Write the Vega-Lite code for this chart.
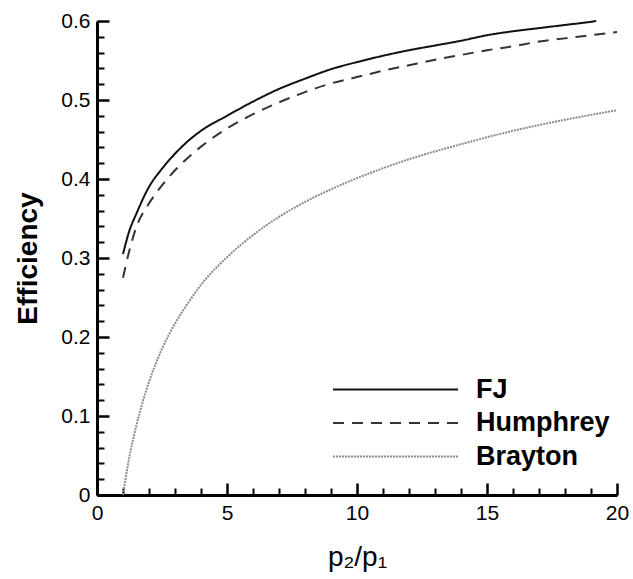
{
  "$schema": "https://vega.github.io/schema/vega-lite/v6.json",
  "width": 520,
  "height": 474,
  "autosize": "none",
  "padding": {"left": 97, "top": 21, "right": 16, "bottom": 84},
  "config": {
    "font": "Liberation Sans",
    "view": {"stroke": null},
    "axis": {"grid": false, "domainColor": "#000", "tickColor": "#000", "labelColor": "#000", "titleColor": "#000"}
  },
  "data": {
    "values": [
      {"series": "FJ", "x": 1, "y": 0.305},
      {"series": "FJ", "x": 1.25, "y": 0.335},
      {"series": "FJ", "x": 1.5, "y": 0.355},
      {"series": "FJ", "x": 2, "y": 0.39},
      {"series": "FJ", "x": 2.5, "y": 0.413},
      {"series": "FJ", "x": 3, "y": 0.432},
      {"series": "FJ", "x": 3.5, "y": 0.448},
      {"series": "FJ", "x": 4, "y": 0.461},
      {"series": "FJ", "x": 5, "y": 0.48},
      {"series": "FJ", "x": 6, "y": 0.498},
      {"series": "FJ", "x": 7, "y": 0.514},
      {"series": "FJ", "x": 8, "y": 0.527},
      {"series": "FJ", "x": 9, "y": 0.539},
      {"series": "FJ", "x": 10, "y": 0.548},
      {"series": "FJ", "x": 11, "y": 0.556},
      {"series": "FJ", "x": 12, "y": 0.563},
      {"series": "FJ", "x": 13, "y": 0.569},
      {"series": "FJ", "x": 14, "y": 0.575},
      {"series": "FJ", "x": 15, "y": 0.582},
      {"series": "FJ", "x": 16, "y": 0.587},
      {"series": "FJ", "x": 17, "y": 0.591},
      {"series": "FJ", "x": 18, "y": 0.595},
      {"series": "FJ", "x": 19, "y": 0.599},
      {"series": "FJ", "x": 19.2, "y": 0.6},
      {"series": "Humphrey", "x": 1, "y": 0.275},
      {"series": "Humphrey", "x": 1.25, "y": 0.31},
      {"series": "Humphrey", "x": 1.5, "y": 0.338},
      {"series": "Humphrey", "x": 2, "y": 0.369},
      {"series": "Humphrey", "x": 2.5, "y": 0.392},
      {"series": "Humphrey", "x": 3, "y": 0.411},
      {"series": "Humphrey", "x": 3.5, "y": 0.427},
      {"series": "Humphrey", "x": 4, "y": 0.441},
      {"series": "Humphrey", "x": 5, "y": 0.464},
      {"series": "Humphrey", "x": 6, "y": 0.482},
      {"series": "Humphrey", "x": 7, "y": 0.497},
      {"series": "Humphrey", "x": 8, "y": 0.51},
      {"series": "Humphrey", "x": 9, "y": 0.521},
      {"series": "Humphrey", "x": 10, "y": 0.529},
      {"series": "Humphrey", "x": 11, "y": 0.537},
      {"series": "Humphrey", "x": 12, "y": 0.544},
      {"series": "Humphrey", "x": 13, "y": 0.551},
      {"series": "Humphrey", "x": 14, "y": 0.557},
      {"series": "Humphrey", "x": 15, "y": 0.563},
      {"series": "Humphrey", "x": 16, "y": 0.568},
      {"series": "Humphrey", "x": 17, "y": 0.574},
      {"series": "Humphrey", "x": 18, "y": 0.578},
      {"series": "Humphrey", "x": 19, "y": 0.582},
      {"series": "Humphrey", "x": 20, "y": 0.586},
      {"series": "Brayton", "x": 1, "y": 0.0},
      {"series": "Brayton", "x": 1.1, "y": 0.021},
      {"series": "Brayton", "x": 1.25, "y": 0.049},
      {"series": "Brayton", "x": 1.5, "y": 0.086},
      {"series": "Brayton", "x": 1.75, "y": 0.117},
      {"series": "Brayton", "x": 2, "y": 0.143},
      {"series": "Brayton", "x": 2.5, "y": 0.185},
      {"series": "Brayton", "x": 3, "y": 0.217},
      {"series": "Brayton", "x": 3.5, "y": 0.243},
      {"series": "Brayton", "x": 4, "y": 0.266},
      {"series": "Brayton", "x": 5, "y": 0.301},
      {"series": "Brayton", "x": 6, "y": 0.329},
      {"series": "Brayton", "x": 7, "y": 0.352},
      {"series": "Brayton", "x": 8, "y": 0.371},
      {"series": "Brayton", "x": 9, "y": 0.387},
      {"series": "Brayton", "x": 10, "y": 0.401},
      {"series": "Brayton", "x": 12, "y": 0.425},
      {"series": "Brayton", "x": 14, "y": 0.444},
      {"series": "Brayton", "x": 16, "y": 0.461},
      {"series": "Brayton", "x": 18, "y": 0.475},
      {"series": "Brayton", "x": 20, "y": 0.487}
    ]
  },
  "layer": [
    {
      "mark": {"type": "point", "opacity": 0},
      "encoding": {
        "x": {"field": "x", "type": "quantitative", "scale": {"domain": [0, 20], "nice": false},
          "axis": {"orient": "bottom", "values": [1,2,3,4,6,7,8,9,11,12,13,14,16,17,18,19], "labels": false, "domain": false, "tickSize": -7, "tickWidth": 2, "title": null}},
        "y": {"field": "y", "type": "quantitative", "scale": {"domain": [0, 0.6], "nice": false},
          "axis": {"orient": "left", "values": [0.02,0.04,0.06,0.08,0.12,0.14,0.16,0.18,0.22,0.24,0.26,0.28,0.32,0.34,0.36,0.38,0.42,0.44,0.46,0.48,0.52,0.54,0.56,0.58], "labels": false, "domain": false, "tickSize": -7, "tickWidth": 2, "title": null}}
      }
    },
    {
      "mark": {"type": "line", "interpolate": "monotone", "strokeWidth": 2},
      "encoding": {
        "x": {"field": "x", "type": "quantitative", "scale": {"domain": [0, 20], "nice": false},
          "axis": {"orient": "bottom", "values": [0, 5, 10, 15, 20], "tickSize": -12, "tickWidth": 2.5, "domainWidth": 3, "labelFontSize": 21, "labelPadding": 19, "labelFlush": false, "title": "p₂/p₁", "titleFontSize": 28, "titleFontWeight": "normal", "titlePadding": 20}},
        "y": {"field": "y", "type": "quantitative", "scale": {"domain": [0, 0.6], "nice": false},
          "axis": {"orient": "left", "values": [0, 0.1, 0.2, 0.3, 0.4, 0.5, 0.6], "labelExpr": "datum.value == 0 ? '0' : format(datum.value, '.1f')", "tickSize": -12, "tickWidth": 2.5, "domainWidth": 3, "labelFontSize": 21, "labelPadding": 19, "labelFlush": false, "title": "Efficiency", "titleFontSize": 28, "titleFontWeight": "bold", "titlePadding": 18}},
        "color": {"field": "series", "type": "nominal", "title": null,
          "scale": {"domain": ["FJ", "Humphrey", "Brayton"], "range": ["#111111", "#333333", "#8c8c8c"]},
          "legend": {"orient": "none", "legendX": 285, "legendY": 355, "symbolType": "M-5,0H5", "symbolSize": 625, "symbolStrokeWidth": 2, "labelFontSize": 27, "labelFontWeight": "bold", "labelColor": "#000", "labelOffset": 67, "rowPadding": 5.5}},
        "strokeDash": {"field": "series", "type": "nominal", "title": null,
          "scale": {"domain": ["FJ", "Humphrey", "Brayton"], "range": [[1, 0], [11, 8], [2, 1]]}}
      }
    }
  ],
  "resolve": {"axis": {"x": "independent", "y": "independent"}}
}
